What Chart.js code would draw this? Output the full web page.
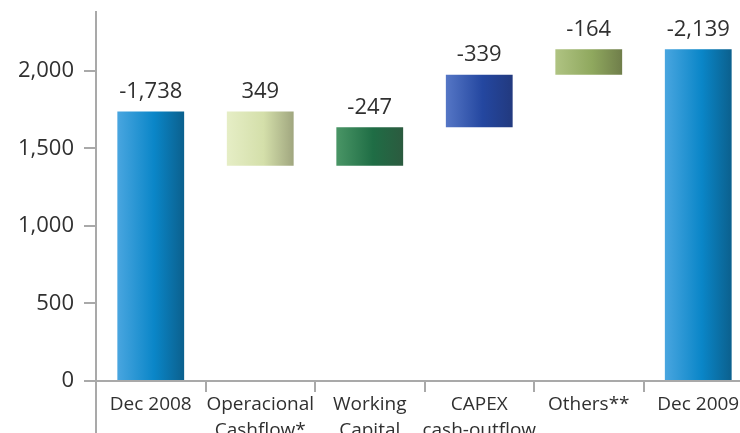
<!DOCTYPE html>
<html>
<head>
<meta charset="utf-8">
<script src="https://cdn.jsdelivr.net/npm/chart.js@4/dist/chart.umd.min.js"></script>
<style>
  html, body { margin: 0; padding: 0; background: #fff; overflow: hidden; }
  #wrap { width: 756px; height: 452px; }
</style>
</head>
<body>
<div id="wrap"><canvas id="chart"></canvas></div>
<script>
// net debt bridge, Dec 2008 -> Dec 2009
const categories = [['Dec 2008'], ['Operacional', 'Cashflow*'], ['Working', 'Capital'], ['CAPEX', 'cash-outflow'], ['Others**'], ['Dec 2009']];
const changes = [-1738, 349, -247, -339, -164, -2139];
const isTotal = [true, false, false, false, false, true];
const yTicks = [0, 500, 1000, 1500, 2000];

// left / middle / right shades for each bar
const barShades = [
  ['#4aa6e0', '#0a86c8', '#0b5f8c'],
  ['#e6eec6', '#d4dfaa', '#9fa57e'],
  ['#4a9666', '#1f6d45', '#2c5a3f'],
  ['#5677c6', '#2447a0', '#22397e'],
  ['#b0c483', '#8fa85e', '#6f7d4a'],
  ['#4aa6e0', '#0a86c8', '#0b5f8c']
];

// running level: a positive cash item lowers the debt, a negative one raises it
let level = 0;
const ranges = changes.map(function(v, i) {
  if (isTotal[i]) {
    level = Math.abs(v);
    return [0, level];
  }
  const next = level - v;
  const r = [Math.min(level, next), Math.max(level, next)];
  level = next;
  return r;
});

const axisGray = '#a9a9a9';
const textColor = '#303030';
const fontFamily = "'Open Sans', 'DejaVu Sans', sans-serif";

function fmt(v) {
  return (v < 0 ? '-' : '') + Math.abs(v).toLocaleString('en-US');
}

// value labels over each bar
const valueLabels = {
  id: 'valueLabels',
  afterDatasetsDraw(chart) {
    const ctx = chart.ctx;
    const meta = chart.getDatasetMeta(0);
    ctx.save();
    ctx.font = '22px ' + fontFamily;
    ctx.fillStyle = textColor;
    ctx.textAlign = 'center';
    ctx.textBaseline = 'bottom';
    meta.data.forEach(function(bar, i) {
      ctx.fillText(fmt(changes[i]), bar.x, bar.y - 9);
    });
    ctx.restore();
  }
};

// the y axis line runs on down past the category axis
const axisTail = {
  id: 'axisTail',
  afterDraw(chart) {
    const a = chart.chartArea;
    const ctx = chart.ctx;
    ctx.save();
    ctx.strokeStyle = axisGray;
    ctx.lineWidth = 2;
    ctx.beginPath();
    ctx.moveTo(a.left, a.bottom);
    ctx.lineTo(a.left, chart.height);
    ctx.stroke();
    ctx.restore();
  }
};

new Chart(document.getElementById('chart'), {
  type: 'bar',
  data: {
    labels: categories,
    datasets: [{
      data: ranges,
      barPercentage: 0.61,
      categoryPercentage: 1,
      borderWidth: 0,
      backgroundColor: function(c) {
        const shades = barShades[c.dataIndex];
        const chart = c.chart;
        if (!chart.chartArea || !chart.scales.x) return shades[1];
        const x = chart.scales.x.getPixelForValue(c.dataIndex);
        const g = chart.ctx.createLinearGradient(x - 34, 0, x + 34, 0);
        g.addColorStop(0, shades[0]);
        g.addColorStop(0.55, shades[1]);
        g.addColorStop(1, shades[2]);
        return g;
      }
    }]
  },
  options: {
    responsive: true,
    maintainAspectRatio: false,
    animation: false,
    layout: { padding: { top: 12, right: 3, left: 0, bottom: 0 } },
    plugins: { legend: { display: false }, tooltip: { enabled: false } },
    scales: {
      x: {
        offset: true,
        grid: { offset: true, drawOnChartArea: false, drawTicks: true, tickLength: 11, color: axisGray, lineWidth: 2 },
        border: { display: true, color: axisGray, width: 2 },
        ticks: {
          color: textColor,
          font: { family: fontFamily, size: 19, lineHeight: 1.35 },
          padding: 0,
          maxRotation: 0,
          autoSkip: false
        },
        afterFit: function(s) { s.height = 71; }
      },
      y: {
        min: 0,
        max: 2380,
        grid: { drawOnChartArea: false, drawTicks: true, tickLength: 12, color: axisGray, lineWidth: 2 },
        border: { display: true, color: axisGray, width: 2 },
        ticks: {
          color: textColor,
          font: { family: fontFamily, size: 22 },
          padding: 10,
          callback: function(v) { return v.toLocaleString('en-US'); }
        },
        afterBuildTicks: function(s) {
          s.ticks = yTicks.map(function(v) { return { value: v }; });
        },
        afterFit: function(s) {
          s.width = 96;
          s.paddingTop = 0;
          s.paddingBottom = 0;
        }
      }
    }
  },
  plugins: [valueLabels, axisTail]
});
</script>
</body>
</html>
